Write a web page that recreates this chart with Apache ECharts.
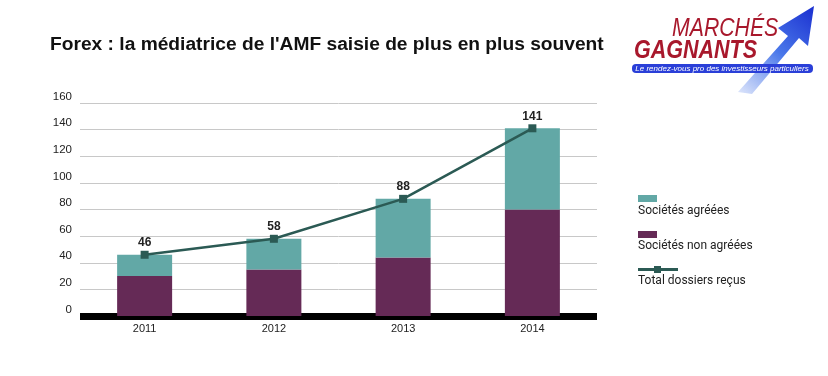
<!DOCTYPE html>
<html>
<head>
<meta charset="utf-8">
<script src="https://cdn.jsdelivr.net/npm/echarts@6/dist/echarts.min.js"></script>
<style>
  html, body { margin: 0; padding: 0; background: #fff; }
  #chart { width: 828px; height: 376px; }
</style>
</head>
<body>
<div id="chart"></div>
<script>
const years = ['2011', '2012', '2013', '2014']
const nonAgreees = [30, 35, 44, 80]
const agreees = [16, 23, 44, 61]
const totalDossiers = [46, 58, 88, 141]
const yTicks = [0, 20, 40, 60, 80, 100, 120, 140, 160]

const TEAL = '#62a8a6'
const PURPLE = '#652a56'
const LINE = '#2b5a54'

const myChart = echarts.init(document.getElementById('chart'))

// légende dessinée à la main : le texte est sous le symbole
function legendGraphics() {
    const txt = {fill: '#222', fontSize: 12, fontFamily: 'Roboto, sans-serif'}
    return [
        {type: 'rect', shape: {x: 638, y: 195, width: 19, height: 7}, style: {fill: TEAL}},
        {type: 'text', x: 638, y: 205, style: Object.assign({text: 'Sociétés agréées'}, txt)},
        {type: 'rect', shape: {x: 638, y: 231, width: 19, height: 7}, style: {fill: PURPLE}},
        {type: 'text', x: 638, y: 240, style: Object.assign({text: 'Sociétés non agréées'}, txt)},
        {type: 'line', shape: {x1: 638, y1: 269.5, x2: 678, y2: 269.5}, style: {stroke: LINE, lineWidth: 3}},
        {type: 'rect', shape: {x: 654, y: 266, width: 7, height: 7}, style: {fill: LINE}},
        {type: 'text', x: 638, y: 275, style: Object.assign({text: 'Total dossiers reçus'}, txt)}
    ]
}

// logo "Marchés Gagnants"
function logoGraphics() {
    const font = 'Liberation Sans, Arial, sans-serif'
    return [
        {
            type: 'polygon',
            shape: {points: [[738, 92], [788, 36], [778, 28], [814, 6], [808, 46], [799, 38], [752, 94]]},
            style: {
                fill: new echarts.graphic.LinearGradient(0, 1, 1, 0, [
                    {offset: 0, color: 'rgba(90,130,235,0.2)'},
                    {offset: 0.5, color: '#4a78ea'},
                    {offset: 1, color: '#1a2fd0'}
                ])
            }
        },
        {type: 'text', x: 672, y: 17, scaleX: 0.85, style: {text: 'MARCHÉS', fill: '#a8182c', fontSize: 25, fontStyle: 'italic', fontFamily: font}},
        {type: 'text', x: 634, y: 39, scaleX: 0.86, style: {text: 'GAGNANTS', fill: '#a8182c', fontSize: 25, fontWeight: 'bold', fontStyle: 'italic', fontFamily: font}},
        {type: 'rect', shape: {x: 632, y: 64, width: 181, height: 9, r: 4}, style: {fill: '#2a3fd8'}},
        {type: 'text', x: 722, y: 68.5, style: {text: 'Le rendez-vous pro des investisseurs particuliers', fill: '#fff', fontSize: 8, fontStyle: 'italic', align: 'center', verticalAlign: 'middle', fontFamily: font}}
    ]
}

const option = {
    animation: false,
    title: {
        text: "Forex : la médiatrice de l'AMF saisie de plus en plus souvent",
        left: 45,
        top: 30,
        textStyle: {
            fontFamily: 'Liberation Sans, Arial, sans-serif',
            fontWeight: 'bold',
            fontSize: 19.2,
            color: '#111'
        }
    },
    grid: {left: 80, right: 231, top: 103, bottom: 60},
    xAxis: {
        type: 'category',
        data: years,
        axisLine: {lineStyle: {color: '#000', width: 7, cap: 'butt'}},
        axisTick: {show: false},
        axisLabel: {color: '#222', fontSize: 11, margin: 7, fontFamily: 'Liberation Sans, Arial, sans-serif'}
    },
    yAxis: {
        type: 'value',
        min: yTicks[0],
        max: yTicks[yTicks.length - 1],
        interval: 20,
        axisLine: {show: false},
        axisTick: {show: false},
        splitLine: {lineStyle: {color: '#c8c8c8', width: 1}},
        axisLabel: {
            color: '#222',
            fontSize: 11.5,
            margin: 8,
            verticalAlign: 'bottom',
            lineHeight: 13,
            fontFamily: 'Liberation Sans, Arial, sans-serif'
        }
    },
    series: [
        {
            name: 'Sociétés non agréées',
            type: 'bar',
            stack: 'total',
            barWidth: 55,
            data: nonAgreees,
            itemStyle: {color: PURPLE}
        },
        {
            name: 'Sociétés agréées',
            type: 'bar',
            stack: 'total',
            data: agreees,
            itemStyle: {color: TEAL}
        },
        {
            name: 'Total dossiers reçus',
            type: 'line',
            data: totalDossiers,
            symbol: 'rect',
            symbolSize: 8,
            z: 5,
            lineStyle: {color: LINE, width: 2.5},
            itemStyle: {color: LINE},
            label: {
                show: true,
                position: 'top',
                distance: 2,
                fontWeight: 'bold',
                fontSize: 12,
                color: '#222',
                fontFamily: 'Liberation Sans, Arial, sans-serif'
            }
        }
    ],
    graphic: legendGraphics().concat(logoGraphics())
}

myChart.setOption(option)
</script>
</body>
</html>
